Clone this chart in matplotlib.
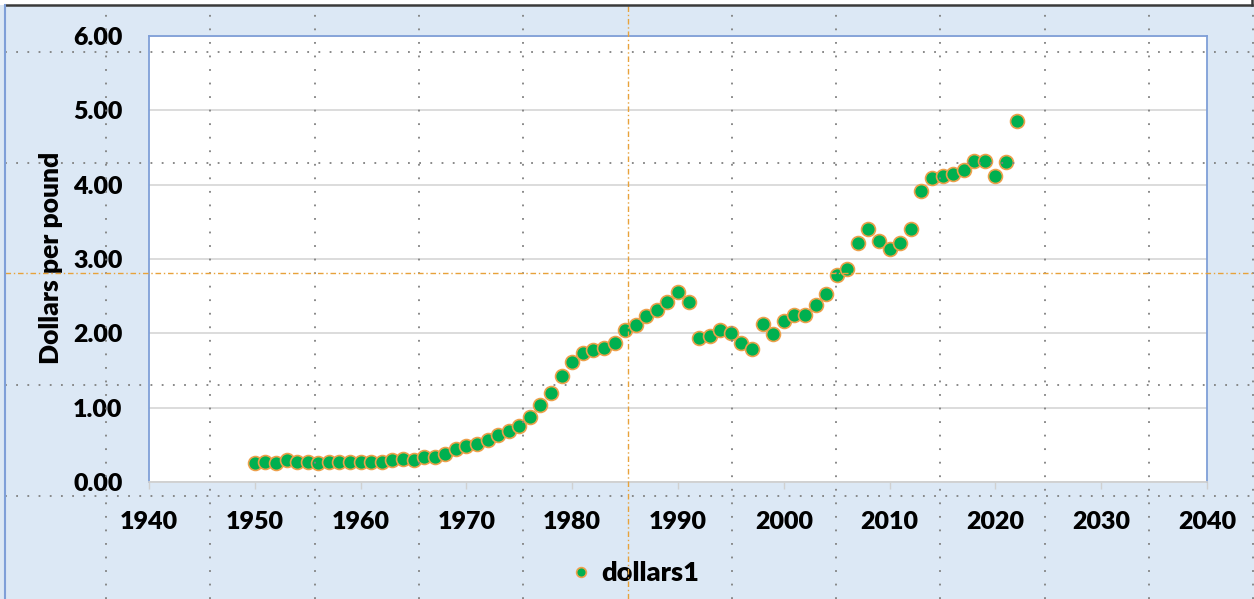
import matplotlib
matplotlib.use("Agg")
import matplotlib.pyplot as plt
from matplotlib.lines import Line2D
from matplotlib.ticker import FormatStrFormatter

# ---- data ----
years = list(range(1950, 2023))
dollars1 = [
    0.26, 0.27, 0.25, 0.30, 0.27, 0.27, 0.26, 0.27, 0.27, 0.27,   # 1950-1959
    0.27, 0.27, 0.27, 0.30, 0.31, 0.30, 0.34, 0.33, 0.38, 0.45,   # 1960-1969
    0.48, 0.51, 0.57, 0.63, 0.69, 0.76, 0.87, 1.03, 1.20, 1.43,   # 1970-1979
    1.61, 1.73, 1.77, 1.80, 1.87, 2.04, 2.11, 2.23, 2.31, 2.42,   # 1980-1989
    2.55, 2.42, 1.94, 1.97, 2.05, 2.01, 1.87, 1.79, 2.12, 1.99,   # 1990-1999
    2.17, 2.24, 2.25, 2.38, 2.53, 2.78, 2.86, 3.21, 3.41, 3.24,   # 2000-2009
    3.14, 3.22, 3.41, 3.92, 4.09, 4.11, 4.14, 4.20, 4.32, 4.32,   # 2010-2019
    4.12, 4.31, 4.86,                                             # 2020-2022
]
series_name = "dollars1"
y_label = "Dollars per pound"
x_ticks = list(range(1940, 2041, 10))
y_ticks = [0, 1, 2, 3, 4, 5, 6]

# ---- figure ----
W, H = 1254, 599
plt.rcParams['font.family'] = ['Lato', 'DejaVu Sans']
WEIGHT = 'heavy'
fig = plt.figure(figsize=(W / 100, H / 100), dpi=100)
fig.patch.set_facecolor('#dce8f5')

def fx(px):
    return px / W

def fy(py):
    return 1 - py / H

L, R, T, B = 149, 1207, 36, 482
ax = fig.add_axes([fx(L), fy(B), (R - L) / W, (B - T) / H])
ax.set_facecolor('white')

ax.plot(years, dollars1, linestyle='none', marker='o', markersize=10,
        markerfacecolor='#00b050', markeredgecolor='#eda04a', markeredgewidth=1.2,
        label=series_name, zorder=3)

ax.set_xlim(1940, 2040)
ax.set_ylim(0, 6)
ax.set_xticks(x_ticks)
ax.set_yticks(y_ticks)
ax.yaxis.set_major_formatter(FormatStrFormatter('%.2f'))
ax.grid(axis='y', color='#d9d9d9', linewidth=1.3, zorder=0)
ax.set_axisbelow(True)

for s in ['left', 'top', 'right']:
    ax.spines[s].set_color('#7f9fd8')
    ax.spines[s].set_linewidth(1.3)
ax.spines['bottom'].set_color('#d0d0d0')
ax.spines['bottom'].set_linewidth(1.3)

ax.tick_params(axis='y', length=0, pad=19, labelsize=18)
ax.tick_params(axis='x', length=5, width=1, color='#d0d0d0', pad=16, labelsize=18)
for lab in ax.get_xticklabels() + ax.get_yticklabels():
    lab.set_fontweight(WEIGHT)

fig.text(fx(51), fy(258), y_label, rotation=90, ha='center', va='center',
         fontsize=19, fontweight=WEIGHT)

leg = fig.legend(loc='center', bbox_to_anchor=(fx(633), fy(573)), frameon=False,
                 handletextpad=0.25, markerscale=0.7,
                 prop={'size': 19.5, 'weight': WEIGHT}, handlelength=1.0)

# ---- screen overlay (crosshair grid of the screenshot) ----
grey = '#808080'
for k in range(12):
    x = 106 + k * 104.3
    if k == 5:
        continue
    fig.add_artist(Line2D([fx(x), fx(x)], [0, fy(5)], transform=fig.transFigure,
                          color=grey, linewidth=1.3, linestyle=(0, (1, 6.5)), zorder=10))
for y in [52, 163, 385, 496]:
    fig.add_artist(Line2D([fx(5), 1], [fy(y), fy(y)], transform=fig.transFigure,
                          color=grey, linewidth=1.3, linestyle=(0, (1, 5.2)), zorder=10))
orange = '#e8a23a'
fig.add_artist(Line2D([fx(627.5), fx(627.5)], [0, fy(5)], transform=fig.transFigure,
                      color=orange, linewidth=1.0, linestyle=(0, (4, 2, 1, 2)), zorder=10))
fig.add_artist(Line2D([fx(5), 1], [fy(273.5), fy(273.5)], transform=fig.transFigure,
                      color=orange, linewidth=1.0, linestyle=(0, (4, 2, 1, 2)), zorder=10))

# window frame
fig.add_artist(plt.Rectangle((0, fy(5)), 1, 1 - fy(5), transform=fig.transFigure,
                             facecolor='white', edgecolor='none', zorder=11))
fig.add_artist(Line2D([fx(5), fx(1252)], [fy(5), fy(5)], transform=fig.transFigure,
                      color='#3a3a3a', linewidth=1.8, zorder=12))
fig.add_artist(Line2D([fx(1252), fx(1252)], [fy(5), 1], transform=fig.transFigure,
                      color='#3a3a3a', linewidth=1.8, zorder=12))
fig.add_artist(Line2D([fx(5), fx(5)], [0, fy(5)], transform=fig.transFigure,
                      color='#7f9fd8', linewidth=1.5, zorder=12))

fig.savefig('out.png', dpi=100, facecolor=fig.get_facecolor())
